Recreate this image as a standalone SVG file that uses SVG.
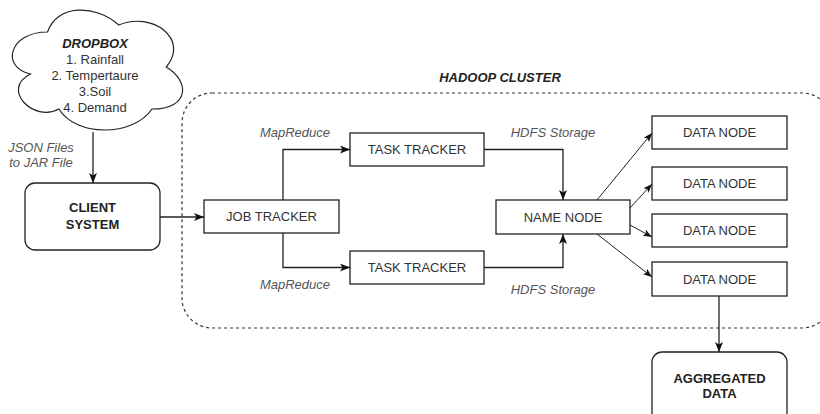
<svg xmlns="http://www.w3.org/2000/svg" width="820" height="414" viewBox="0 0 820 414">
<style>
text{font-family:"Liberation Sans",Arial,sans-serif;font-size:13px;fill:#333;text-anchor:middle}
.b{font-weight:bold;fill:#222}
.bi{font-weight:bold;font-style:italic;fill:#222}
.i{font-style:italic;fill:#555}
.box{fill:#fff;stroke:#222;stroke-width:1.3}
.conn path{fill:none;stroke:#222;stroke-width:1.3}
.conn path.thin{stroke-width:1}
</style>
<defs>
<marker id="arr" markerUnits="userSpaceOnUse" markerWidth="10" markerHeight="8" viewBox="0 0 10 8" refX="10" refY="4" orient="auto">
<path d="M0,0 L10,4 L0,8 L2.5,4 Z" fill="#111"/>
</marker>
<marker id="arrs" markerUnits="userSpaceOnUse" markerWidth="9" markerHeight="7" viewBox="0 0 9 7" refX="9" refY="3.5" orient="auto">
<path d="M0,0 L9,3.5 L0,7 L2.2,3.5 Z" fill="#111"/>
</marker>
</defs>
<rect width="820" height="414" fill="#fff"/>

<g id="cluster">
<rect x="182" y="93" width="650" height="235" rx="30" fill="none" stroke="#333" stroke-width="1.2" stroke-dasharray="3 3"/>
<text class="bi" x="500" y="82" font-size="12">HADOOP CLUSTER</text>
</g>

<g id="dropbox">
<path transform="translate(0,-3) scale(190,140)" vector-effect="non-scaling-stroke" fill="#fff" stroke="#222" stroke-width="1.2" d="M0.25,0.25 C0.05,0.25 0,0.5 0.16,0.55 C0,0.66 0.18,0.9 0.31,0.8 C0.4,1 0.7,1 0.8,0.8 C1,0.8 1,0.6 0.875,0.5 C1,0.3 0.8,0.1 0.625,0.2 C0.5,0.05 0.3,0.05 0.25,0.25 Z"/>
<text class="bi" x="95" y="47.5">DROPBOX</text>
<text x="95" y="63.5" font-size="12">1. Rainfall</text>
<text x="95" y="79.5" font-size="12">2. Tempertaure</text>
<text x="95" y="95.5" font-size="12">3.Soil</text>
<text x="95" y="111.5" font-size="12">4. Demand</text>
</g>

<g id="client">
<rect class="box" x="25" y="183" width="135" height="67" rx="10"/>
<text class="b" x="92.5" y="212">CLIENT</text>
<text class="b" x="92.5" y="229">SYSTEM</text>
</g>

<g id="jobtracker">
<rect class="box" x="204" y="200" width="135" height="33"/>
<text x="271.5" y="221">JOB TRACKER</text>
</g>

<g id="tasktracker1">
<rect class="box" x="350" y="133" width="134" height="33"/>
<text x="417" y="154">TASK TRACKER</text>
</g>

<g id="tasktracker2">
<rect class="box" x="350" y="251" width="134" height="33"/>
<text x="417" y="272">TASK TRACKER</text>
</g>

<g id="namenode">
<rect class="box" x="496" y="200" width="134" height="34"/>
<text x="563" y="221.5">NAME NODE</text>
</g>

<g id="datanode1">
<rect class="box" x="652" y="116" width="135" height="33"/>
<text x="719.5" y="137">DATA NODE</text>
</g>
<g id="datanode2">
<rect class="box" x="652" y="167" width="135" height="33"/>
<text x="719.5" y="188">DATA NODE</text>
</g>
<g id="datanode3">
<rect class="box" x="652" y="214" width="135" height="33"/>
<text x="719.5" y="235">DATA NODE</text>
</g>
<g id="datanode4">
<rect class="box" x="652" y="262" width="135" height="34"/>
<text x="719.5" y="283.5">DATA NODE</text>
</g>

<g id="aggregated">
<rect class="box" x="652" y="352" width="135" height="70" rx="10"/>
<text class="b" x="719.5" y="383">AGGREGATED</text>
<text class="b" x="719.5" y="398">DATA</text>
</g>

<g id="connectors" class="conn">
<path d="M93,132 V183" marker-end="url(#arr)"/>
<path d="M160,217 H204" marker-end="url(#arr)"/>
<path d="M283,200 V149.5 H350" marker-end="url(#arr)"/>
<path d="M283,233 V267.5 H350" marker-end="url(#arr)"/>
<path d="M484,149.5 H563 V200" marker-end="url(#arr)"/>
<path d="M484,267.5 H563 V234" marker-end="url(#arr)"/>
<path class="thin" d="M597,200 L652,133" marker-end="url(#arrs)"/>
<path class="thin" d="M630,208 L652,184" marker-end="url(#arrs)"/>
<path class="thin" d="M630,225 L652,237" marker-end="url(#arrs)"/>
<path class="thin" d="M597,234 L652,277" marker-end="url(#arrs)"/>
<path d="M719,296 V352" marker-end="url(#arr)"/>
</g>

<g id="labels">
<text class="i" x="41" y="152">JSON Files</text>
<text class="i" x="41" y="167">to JAR File</text>
<text class="i" x="295" y="137">MapReduce</text>
<text class="i" x="295" y="289">MapReduce</text>
<text class="i" x="553" y="137">HDFS Storage</text>
<text class="i" x="553" y="294">HDFS Storage</text>
</g>
</svg>
